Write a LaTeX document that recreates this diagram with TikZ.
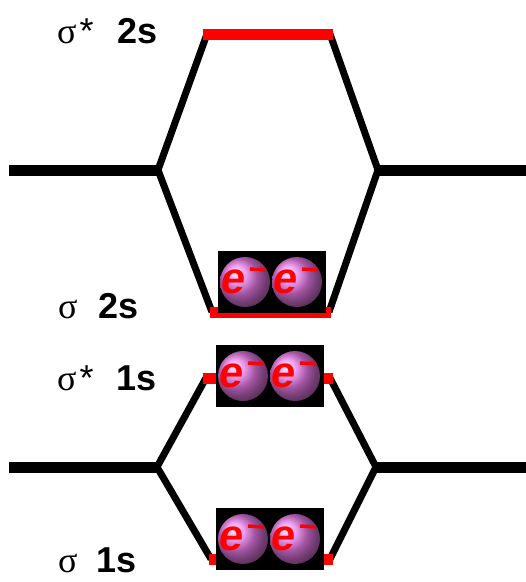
\documentclass[tikz,border=0pt]{standalone}
\usepackage{fontspec}
\setmainfont{Liberation Sans}
\newfontfamily\greekfont{Liberation Serif}
\definecolor{orbred}{rgb}{1,0,0}
\definecolor{elpink}{RGB}{232,122,232}
\tikzset{
  atomic/.style={line width=11pt},
  bond/.style={line width=7pt},
  molevel/.style={line width=11pt,orbred},
  lbl/.style={anchor=base west,inner sep=0pt,font=\fontsize{36}{40}\selectfont},
  pics/epair/.style={code={
    \fill[black] (-54,-31) rectangle (54,31);
    \foreach \x/\n in {-27/a,25/b}{
      \shade[ball color=elpink] (\x,0) circle (25);
      \node[text=orbred,inner sep=0pt,xslant=0.15,font=\fontsize{44}{46}\selectfont\bfseries] (\n) at (\x-12,0) {e};
      \draw[orbred,line width=3.5pt] (\x+5,-13) -- (\x+21,-12);
    }
  }}
}
\begin{document}
\begin{tikzpicture}[x=1pt,y=-1pt]
\useasboundingbox (0,0) rectangle (526,582);
% atomic levels, left and right
\coordinate (L2) at (9,170);   \coordinate (A2L) at (158,170);
\coordinate (R2) at (526,170); \coordinate (A2R) at (378,170);
\coordinate (L1) at (9,467);   \coordinate (A1L) at (157,467);
\coordinate (R1) at (526,467); \coordinate (A1R) at (376,467);
% molecular level ends
\coordinate (X2L) at (203,34);  \coordinate (X2R) at (333,34);
\coordinate (B2L) at (210,312); \coordinate (B2R) at (331,312);
\coordinate (X1L) at (203,378); \coordinate (X1R) at (333,378);
\coordinate (B1L) at (209,559); \coordinate (B1R) at (333,559);

\draw[bond] ([xshift=4pt]X2L) -- (A2L) -- ([xshift=2pt]B2L);
\draw[bond] ([xshift=-3pt]X2R) -- (A2R) -- ([xshift=-2pt]B2R);
\draw[bond] ([xshift=3pt]X1L) -- (A1L) -- ([xshift=2pt]B1L);
\draw[bond] ([xshift=-3pt]X1R) -- (A1R) -- ([xshift=-3pt]B1R);
\draw[atomic] (L2) -- (A2L) (A2R) -- (R2);
\draw[atomic] (L1) -- (A1L) (A1R) -- (R1);

\draw[molevel] (X2L) -- (X2R);
\draw[molevel] (B2L) -- (B2R);
\draw[molevel] (X1L) -- (X1R);
\draw[molevel] (B1L) -- (B1R);

\pic (p2s) at (272,282) {epair};
\pic (px1s) at (270,376) {epair};
\pic (p1s) at (270,539) {epair};

\node[lbl] (sx2s) at (57,43) {{\greekfont σ}\kern3pt*};
\node[lbl,font=\fontsize{36}{40}\selectfont\bfseries] (nx2s) at (117,43) {2s};
\node[lbl] (s2s) at (58,318) {\greekfont σ};
\node[lbl,font=\fontsize{36}{40}\selectfont\bfseries] (n2s) at (98,318) {2s};
\node[lbl] (sx1s) at (57,390) {{\greekfont σ}\kern3pt*};
\node[lbl,font=\fontsize{36}{40}\selectfont\bfseries] (nx1s) at (116,390) {1s};
\node[lbl] (s1s) at (58,572) {\greekfont σ};
\node[lbl,font=\fontsize{36}{40}\selectfont\bfseries] (n1s) at (96,572) {1s};
\end{tikzpicture}
\end{document}
